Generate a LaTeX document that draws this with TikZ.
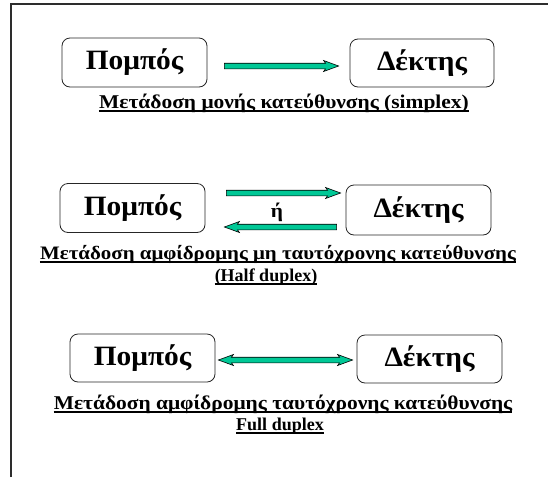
\documentclass[tikz,border=0pt]{standalone}
\usepackage{fontspec}
\setmainfont{Liberation Serif}
\newfontfamily\labelfont[FakeStretch=1.05]{Liberation Serif}
\newfontfamily\capfont[FakeStretch=1.1]{Liberation Serif}
\usetikzlibrary{calc}
\definecolor{flowteal}{RGB}{0,200,150}
\definecolor{framegray}{RGB}{45,45,45}

% horizontal block arrow with one head: tail #1, tip #2
\newcommand\singleflow[2]{%
  \draw[flowbody] let \p1=(#1), \p2=(#2), \n1={sign(\x2-\x1)} in
    (\x1,{\y1+2.8pt}) -- ({\x2-\n1*13pt},{\y2+2.8pt}) -- ({\x2-\n1*15pt},{\y2+5.5pt})
    -- (\x2,\y2) -- ({\x2-\n1*15pt},{\y2-5.5pt}) -- ({\x2-\n1*13pt},{\y2-2.8pt})
    -- (\x1,{\y1-2.8pt}) -- cycle;}
% horizontal block arrow with heads at both ends
\newcommand\doubleflow[2]{%
  \draw[flowbody] let \p1=(#1), \p2=(#2), \n1={sign(\x2-\x1)} in
    (\x1,\y1) -- ({\x1+\n1*15pt},{\y1+5.5pt}) -- ({\x1+\n1*13pt},{\y1+2.8pt})
    -- ({\x2-\n1*13pt},{\y2+2.8pt}) -- ({\x2-\n1*15pt},{\y2+5.5pt}) -- (\x2,\y2)
    -- ({\x2-\n1*15pt},{\y2-5.5pt}) -- ({\x2-\n1*13pt},{\y2-2.8pt})
    -- ({\x1+\n1*13pt},{\y1-2.8pt}) -- ({\x1+\n1*15pt},{\y1-5.5pt}) -- cycle;}
% rule under a caption node
\newcommand\underrule[1]{%
  \draw[underrule] ([yshift=-3pt]#1.base west) -- ([yshift=-3pt]#1.base east);}

\begin{document}
\begin{tikzpicture}[x=1pt,y=-1pt,
  station/.style={draw=black!85, line width=0.8pt, rounded corners=8pt,
    minimum width=145pt, minimum height=49pt, inner sep=0pt,
    font=\labelfont\fontsize{28}{30}\selectfont\bfseries},
  caption/.style={inner sep=0pt, anchor=base,
    font=\capfont\fontsize{19.5}{22}\selectfont\bfseries},
  subcaption/.style={inner sep=0pt, anchor=base,
    font=\fontsize{18}{21}\selectfont\bfseries},
  underrule/.style={line width=1.1pt, draw=black},
  flowbody/.style={draw=black, line width=0.6pt, fill=flowteal, line join=miter},
  frameline/.style={line width=2pt, draw=framegray}]

\useasboundingbox (0,0) rectangle (548,477);
\fill[white] (0,0) rectangle (548,477);

% page frame (top and left edges)
\draw[frameline] (11,477) -- (11,4) -- (548,4);

% simplex
\node[station] (tx1) at (134.5,62.5) {Πομπός};
\node[station, minimum width=144pt, minimum height=48pt] (rx1) at (422,63) {Δέκτης};
\coordinate (s1a) at ($(tx1.east)+(17,3.5)$);
\coordinate (s1b) at ($(rx1.west)+(-11,3)$);
\singleflow{s1a}{s1b}
\node[caption] (cap1) at (284,108) {Μετάδοση μονής κατεύθυνσης (simplex)};
\underrule{cap1}

% half duplex
\node[station] (tx2) at (132.5,208) {Πομπός};
\node[station, minimum height=50pt] (rx2) at (418.5,210) {Δέκτης};
\coordinate (h1a) at ($(tx2.east)+(21,-15)$);
\coordinate (h1b) at ($(rx2.west)+(-5,-17)$);
\coordinate (h2a) at ($(rx2.west)+(-9,17)$);
\coordinate (h2b) at ($(tx2.east)+(19,19)$);
\singleflow{h1a}{h1b}
\singleflow{h2a}{h2b}
\node[font=\capfont\fontsize{19.5}{22}\selectfont\bfseries, inner sep=0pt] (or) at (277,212) {ή};
\node[caption, font=\capfont\fontsize{19}{22}\selectfont\bfseries] (cap2a) at (278,259)
  {Μετάδοση αμφίδρομης μη ταυτόχρονης κατεύθυνσης};
\underrule{cap2a}
\node[subcaption] (cap2b) at (266,281) {(Half duplex)};
\underrule{cap2b}

% full duplex
\node[station, minimum height=48pt] (tx3) at (142.5,358) {Πομπός};
\node[station, minimum height=48pt] (rx3) at (429.5,359) {Δέκτης};
\coordinate (f1a) at ($(tx3.east)+(3,2)$);
\coordinate (f1b) at ($(rx3.west)+(-4,1)$);
\doubleflow{f1a}{f1b}
\node[caption] (cap3a) at (283,409) {Μετάδοση αμφίδρομης ταυτόχρονης κατεύθυνσης};
\underrule{cap3a}
\node[subcaption] (cap3b) at (280,430) {Full duplex};
\underrule{cap3b}
\end{tikzpicture}
\end{document}
